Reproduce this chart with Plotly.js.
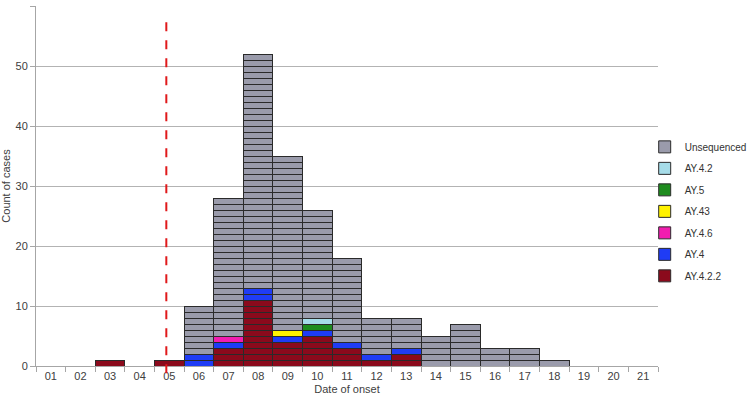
<!DOCTYPE html>
<html>
<head>
<meta charset="utf-8">
<script src="https://cdn.plot.ly/plotly-3.0.1.min.js"></script>
<style>html,body{margin:0;padding:0;background:#fff;}#chart{width:749px;height:402px;}</style>
</head>
<body>
<div id="chart"></div>
<script>
var dates = ["01","02","03","04","05","06","07","08","09","10","11","12","13","14","15","16","17","18","19","20","21"];
// series listed bottom to top of the stack
var seriesNames = ["AY.4.2.2","AY.4","AY.4.6","AY.43","AY.5","AY.4.2","Unsequenced"];
var seriesColors = ["#8B0A1C","#1F3CF5","#F21DB0","#FFF200","#1E8C1E","#A6DCE8","#9A9BAB"];
var ay422 =       [0,0,1,0,1,0,3,11,4,5,3,1,2,0,0,0,0,0,0,0,0];
var ay4 =         [0,0,0,0,0,2,1,2,1,1,1,1,1,0,0,0,0,0,0,0,0];
var ay46 =        [0,0,0,0,0,0,1,0,0,0,0,0,0,0,0,0,0,0,0,0,0];
var ay43 =        [0,0,0,0,0,0,0,0,1,0,0,0,0,0,0,0,0,0,0,0,0];
var ay5 =         [0,0,0,0,0,0,0,0,0,1,0,0,0,0,0,0,0,0,0,0,0];
var ay42 =        [0,0,0,0,0,0,0,0,0,1,0,0,0,0,0,0,0,0,0,0,0];
var unsequenced = [0,0,0,0,0,8,23,39,29,18,14,6,5,5,7,3,3,1,0,0,0];
var seriesValues = [ay422, ay4, ay46, ay43, ay5, ay42, unsequenced];
var onsetMarker = 3.9; // dashed line position (category index)

var traces = [];
seriesValues.forEach(function(vals, s){
  var maxv = Math.max.apply(null, vals);
  for (var k = 0; k < maxv; k++) {
    traces.push({
      type: 'bar',
      x: dates,
      y: vals.map(function(v){ return v > k ? 1 : null; }),
      name: seriesNames[s],
      legendgroup: seriesNames[s],
      showlegend: k === 0,
      legendrank: 100 - s,
      marker: {color: seriesColors[s], line: {color: '#2a2a2a', width: 1}},
      hoverinfo: 'skip'
    });
  }
});

var font = {family: 'Liberation Sans, Arial, sans-serif', size: 11, color: '#404040'};
var layout = {
  width: 749, height: 402,
  margin: {l: 36, r: 91, t: 6, b: 36, autoexpand: false},
  barmode: 'stack', bargap: 0,
  paper_bgcolor: '#fff', plot_bgcolor: '#fff',
  font: font,
  showlegend: true,
  legend: {x: 0.9786, y: 0.649, xanchor: 'left', yanchor: 'top', traceorder: 'grouped',
           tracegroupgap: 2.5, itemwidth: 30,
           font: {family: font.family, size: 10, color: '#333'}, bgcolor: 'rgba(0,0,0,0)'},
  xaxis: {type: 'category', showline: true, linecolor: '#a6a6a6', linewidth: 1,
          ticks: 'outside', tickson: 'boundaries', ticklen: 5, tickcolor: '#a6a6a6',
          showgrid: false, tickfont: font, range: [-0.5, 20.5],
          title: {text: 'Date of onset', font: font, standoff: 4}},
  yaxis: {range: [0, 60], dtick: 10, showline: true, linecolor: '#a6a6a6', linewidth: 1,
          ticks: 'outside', ticklen: 5, tickcolor: '#a6a6a6', gridcolor: '#b3b3b3',
          zeroline: false, tickfont: font,
          title: {text: 'Count of cases', font: font, standoff: 8}},
  shapes: [{type: 'line', xref: 'x', yref: 'paper', x0: onsetMarker, x1: onsetMarker,
            y0: -0.02, y1: 0.972, line: {color: '#e0191b', width: 2, dash: 'dash'}}]
};
Plotly.newPlot('chart', traces, layout, {displayModeBar: false, staticPlot: true});
</script>
</body>
</html>
